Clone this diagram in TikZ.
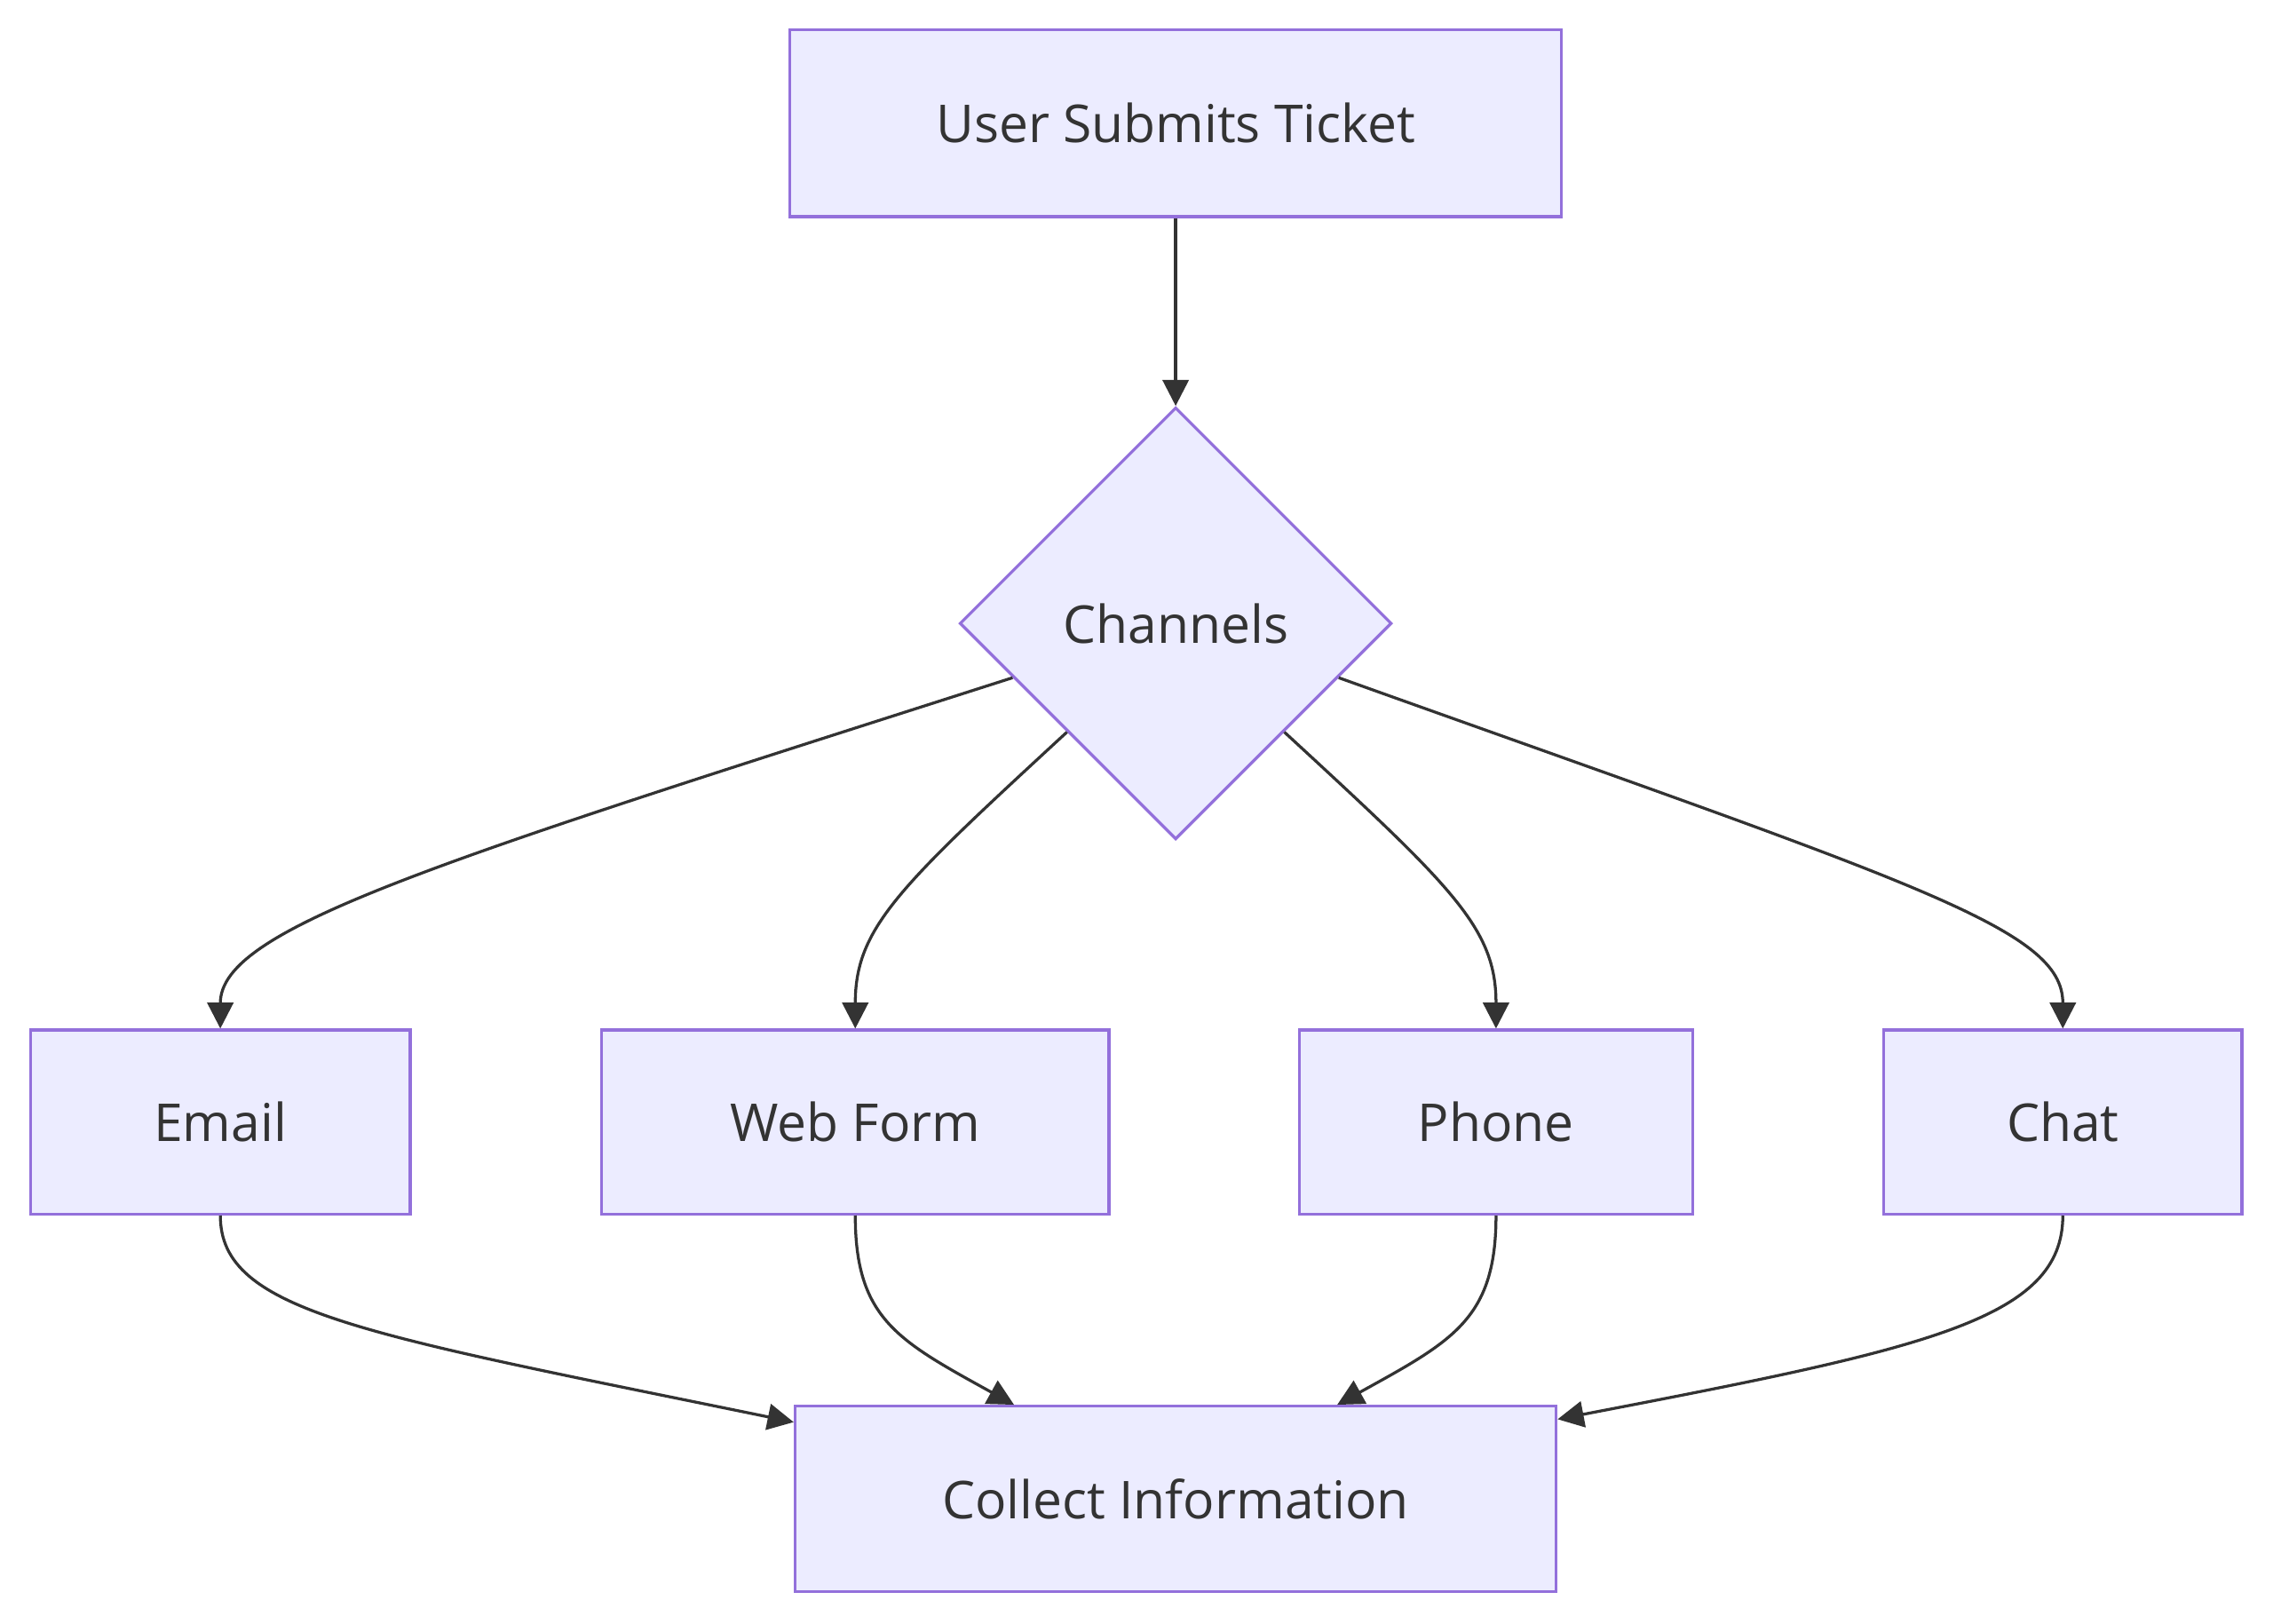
\documentclass[tikz,border=0pt]{standalone}
\usepackage{fontspec}
\setmainfont{Open Sans}
\usetikzlibrary{shapes.geometric,arrows.meta,calc}
\definecolor{nfill}{HTML}{ECECFF}
\definecolor{nline}{HTML}{9370DB}
\definecolor{ink}{HTML}{333333}
\begin{document}
\begin{tikzpicture}[x=0.5pt,y=-0.5pt,
  box/.style={draw=nline,fill=nfill,line width=1pt,rectangle,inner sep=0pt,text=ink,font=\fontsize{18}{20}\selectfont},
  dia/.style={draw=nline,fill=nfill,line width=1pt,diamond,aspect=1,inner sep=0pt,minimum width=149pt,minimum height=149pt,text=ink,font=\fontsize{18}{20}\selectfont},
  edge/.style={draw=ink,line width=1pt,-{Triangle[length=9pt,width=9pt]}}]
\useasboundingbox (0,0) rectangle (1568,1120);
\node[box,minimum width=266pt,minimum height=64.5pt] (top) at (811,85) {User Submits Ticket};
\node[dia] (ch) at (811,430) {Channels};
\node[box,minimum width=131pt,minimum height=63.5pt] (em) at (152,774) {Email};
\node[box,minimum width=175pt,minimum height=63.5pt] (wf) at (590,774) {Web Form};
\node[box,minimum width=135.5pt,minimum height=63.5pt] (ph) at (1032,774) {Phone};
\node[box,minimum width=123.5pt,minimum height=63.5pt] (cl) at (1423,774) {Chat};
\node[box,minimum width=262.5pt,minimum height=64pt] (co) at (811,1034) {Collect Information};
\draw[edge] (top.south) -- (ch.north);
\draw[edge] ($(ch.west)!0.25!(ch.south)$) .. controls (300,595) and (152,640) .. (em.north);
\draw[edge] ($(ch.west)!0.5!(ch.south)$) .. controls (620,612) and (590,640) .. (wf.north);
\draw[edge] ($(ch.east)!0.5!(ch.south)$) .. controls (1002,612) and (1032,640) .. (ph.north);
\draw[edge] ($(ch.east)!0.25!(ch.south)$) .. controls (1322,610) and (1423,640) .. (cl.north);
\draw[edge] (em.south) .. controls (152,905) and (250,920) .. ($(co.north west)+(0,12)$);
\draw[edge] (wf.south) .. controls (590,910) and (620,925) .. ($(co.north west)+(152,0)$);
\draw[edge] (ph.south) .. controls (1032,910) and (1002,925) .. ($(co.north east)+(-152,0)$);
\draw[edge] (cl.south) .. controls (1423,910) and (1330,930) .. ($(co.north east)+(0,10)$);
\end{tikzpicture}
\end{document}
